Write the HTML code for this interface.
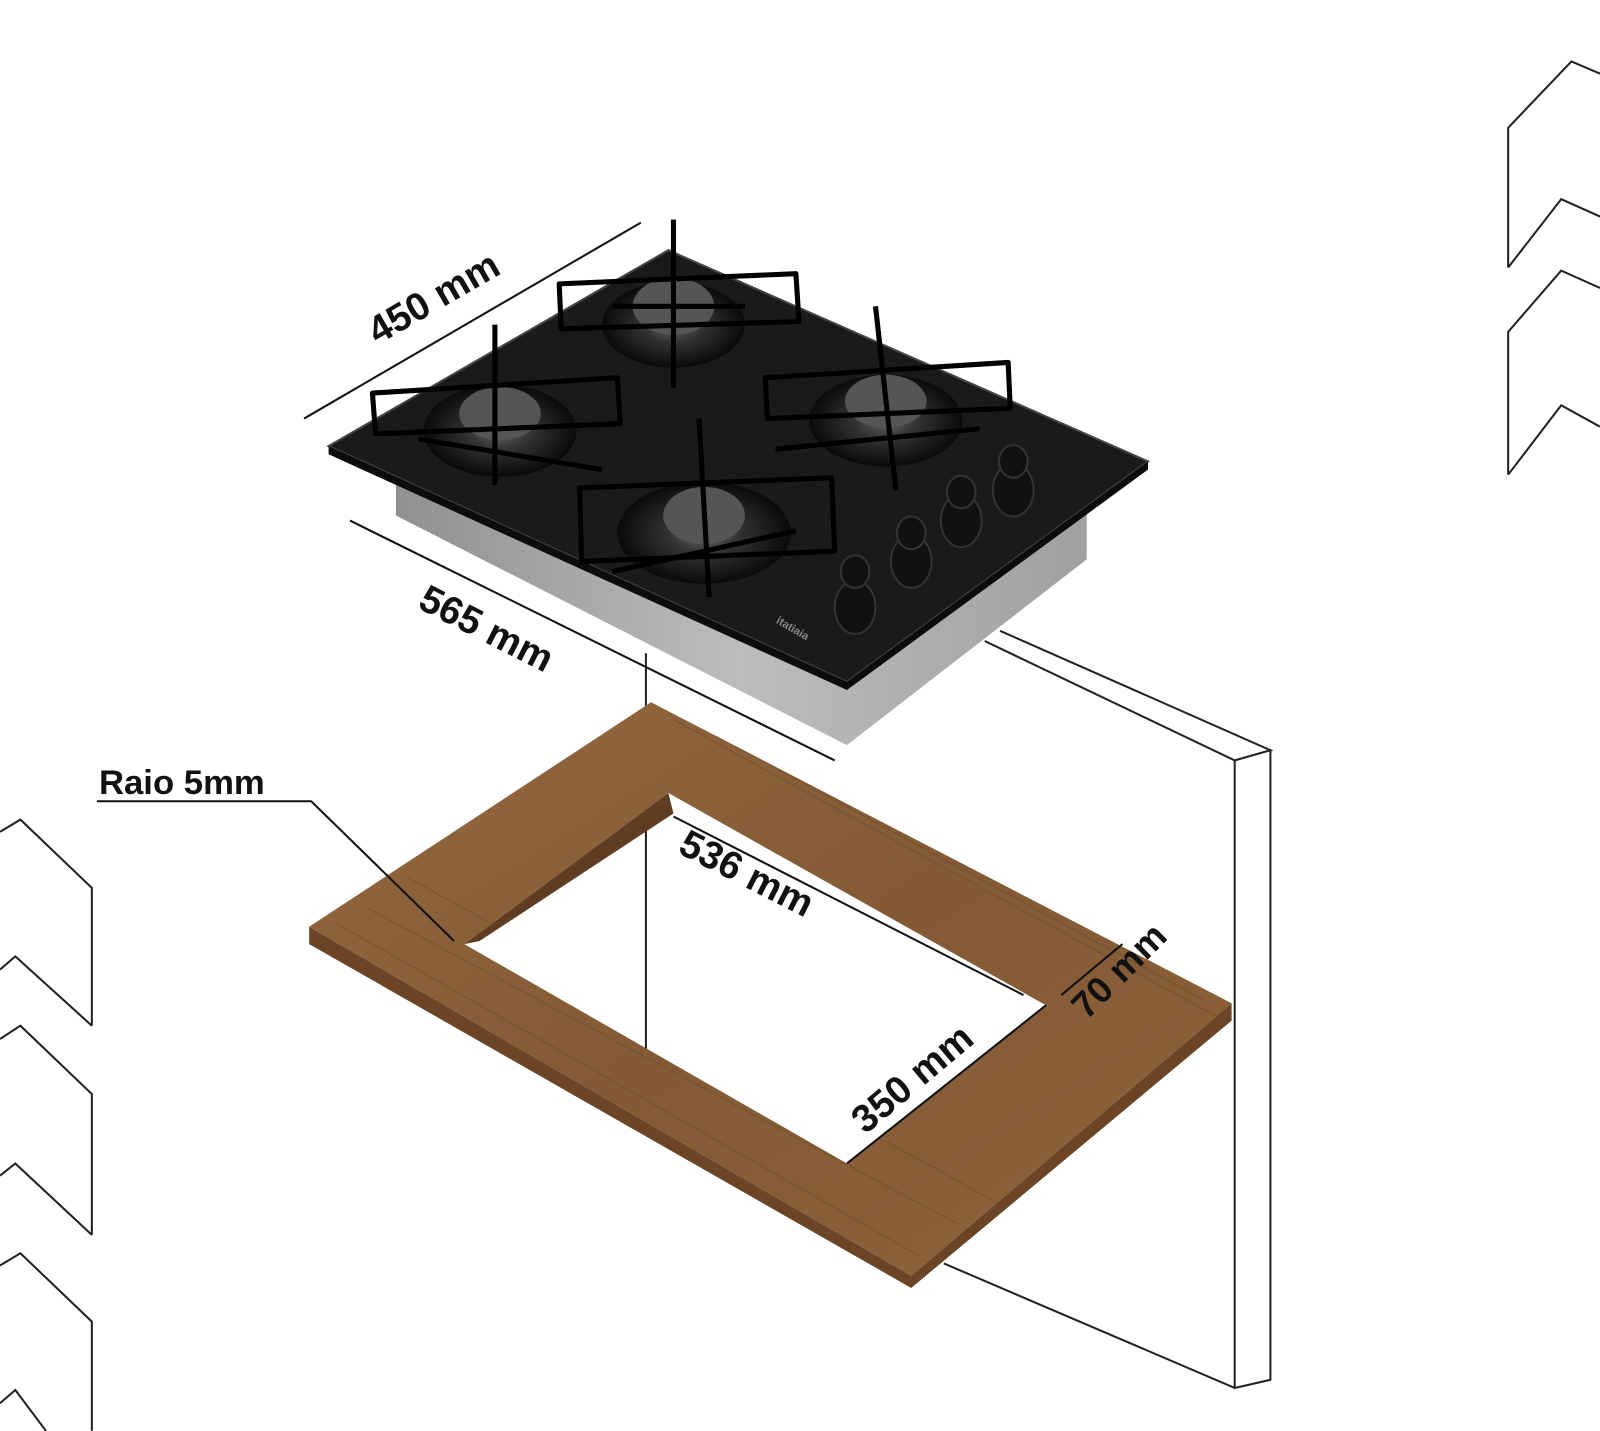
<!DOCTYPE html>
<html><head><meta charset="utf-8"><style>
html,body{margin:0;padding:0;background:#fff;}
svg{display:block}
text{font-family:"Liberation Sans",sans-serif;font-weight:bold;fill:#111}
</style></head><body>
<svg width="1600" height="1431" viewBox="0 0 1568 1402" xmlns="http://www.w3.org/2000/svg">
<defs>
<linearGradient id="wood" x1="0" y1="0" x2="1" y2="1">
<stop offset="0" stop-color="#94693f"/><stop offset="0.5" stop-color="#835a35"/><stop offset="1" stop-color="#8e633a"/>
</linearGradient>
<linearGradient id="steel" x1="0" y1="0" x2="1" y2="0">
<stop offset="0" stop-color="#909090"/><stop offset="0.5" stop-color="#bdbdbd"/><stop offset="1" stop-color="#a0a0a0"/>
</linearGradient>
<radialGradient id="burn" cx="0.5" cy="0.5" r="0.5">
<stop offset="0" stop-color="#666"/><stop offset="0.4" stop-color="#333"/><stop offset="1" stop-color="#0a0a0a"/>
</radialGradient>
<clipPath id="wc"><path clip-rule="evenodd" d="M303,908 L638,688 L1207,983 L893,1250 Z M455,925 L655,777 L1025,985 L830,1140 Z"/></clipPath>
</defs>
<g fill="none" stroke="#222" stroke-width="2">
<path d="M1478,262 L1478,125 L1540,60 L1568,72"/>
<path d="M1478,262 L1530,195 L1568,212"/>
<path d="M1478,465 L1478,325 L1530,265 L1568,282"/>
<path d="M1478,465 L1530,397 L1568,418"/>
<path d="M0,815 L20,803 L90,870 L90,1005"/>
<path d="M0,950 L15,937 L90,1005"/>
<path d="M0,1018 L20,1005 L90,1072 L90,1210"/>
<path d="M0,1152 L15,1140 L90,1210"/>
<path d="M0,1240 L20,1228 L90,1295 L90,1402"/>
<path d="M0,1375 L15,1362 L45,1402"/>
<path d="M965,628 L1210,745 L1245,735 L980,618"/>
<path d="M1245,735 L1245,1352 L1210,1360 L1210,745"/>
<path d="M925,1238 L1210,1360"/>
<path d="M633,640 L633,1032"/>
</g>
<path fill="#6b4526" d="M303,908 L303,925 L893,1262 L1207,1000 L1207,983 L893,1250 Z"/>
<path fill="url(#wood)" fill-rule="evenodd" d="M303,908 L638,688 L1207,983 L893,1250 Z M455,925 L655,777 L1025,985 L830,1140 Z"/>
<path fill="#5e3d22" d="M455,925 L655,777 L660,797 L470,922 Z"/>
<g stroke="#6d4a2b" stroke-width="1.5" opacity="0.45" clip-path="url(#wc)">
<path d="M330,905 L900,1230 M360,890 L940,1200 M700,720 L1180,980 M740,735 L1150,950 M400,860 L980,1180 M660,705 L1200,1000"/>
</g>
<path fill="url(#steel)" d="M388,470 L388,505 L830,730 L1065,548 L1065,495 L830,660 Z"/>
<path fill="#1a1a1a" stroke="#444" stroke-width="2" d="M322,437 L655,245 L1125,452 L830,668 Z"/>
<path fill="#0c0c0c" d="M322,437 L322,445 L830,676 L1125,460 L1125,452 L830,668 Z"/>
<g>
<ellipse cx="660" cy="318" rx="70" ry="42" fill="url(#burn)"/>
<ellipse cx="660" cy="300" rx="40" ry="28" fill="#555"/>
<ellipse cx="490" cy="422" rx="75" ry="45" fill="url(#burn)"/>
<ellipse cx="490" cy="405" rx="40" ry="26" fill="#555"/>
<ellipse cx="868" cy="412" rx="75" ry="45" fill="url(#burn)"/>
<ellipse cx="868" cy="393" rx="40" ry="26" fill="#555"/>
<ellipse cx="690" cy="522" rx="85" ry="50" fill="url(#burn)"/>
<ellipse cx="690" cy="505" rx="40" ry="28" fill="#555"/>
</g>
<g fill="none" stroke="#000" stroke-width="5" stroke-linejoin="round">
<path d="M548,278 L780,268 L783,315 L550,322 Z"/>
<path d="M660,215 L660,380 M600,300 L730,300"/>
<path d="M365,385 L605,370 L608,415 L368,425 Z"/>
<path d="M485,318 L485,475 M410,430 L590,460"/>
<path d="M750,370 L988,355 L990,400 L752,410 Z"/>
<path d="M858,300 L878,480 M760,440 L960,420"/>
<path d="M568,478 L815,468 L818,540 L570,550 Z"/>
<path d="M685,410 L695,585 M600,560 L780,520"/>
</g>
<g fill="#111" stroke="#333" stroke-width="2">
<ellipse cx="838" cy="595" rx="20" ry="26"/><ellipse cx="838" cy="560" rx="14" ry="16"/>
<ellipse cx="893" cy="550" rx="20" ry="26"/><ellipse cx="893" cy="522" rx="14" ry="16"/>
<ellipse cx="942" cy="510" rx="20" ry="26"/><ellipse cx="942" cy="482" rx="14" ry="16"/>
<ellipse cx="993" cy="480" rx="20" ry="26"/><ellipse cx="993" cy="452" rx="14" ry="16"/>
</g>
<text x="0" y="0" transform="translate(760,610) rotate(30)" style="font-size:11px;fill:#888">itatiaia</text>
<g stroke="#111" stroke-width="2" fill="none">
<path d="M298,410 L628,218"/>
<path d="M343,510 L818,745"/>
<path d="M660,800 L1003,975"/>
<path d="M830,1140 L1025,985"/>
<path d="M1040,975 L1100,925"/>
<path d="M95,785 L305,785 L445,922"/>
</g>
<text transform="translate(370,338) rotate(-30)" style="font-size:38px">450 mm</text>
<text transform="translate(408,595) rotate(27)" style="font-size:38px">565 mm</text>
<text transform="translate(663,835) rotate(27)" style="font-size:38px">536 mm</text>
<text transform="translate(848,1112) rotate(-40)" style="font-size:38px">350 mm</text>
<text transform="translate(1065,1000) rotate(-45)" style="font-size:36px">70 mm</text>
<text x="97" y="778" style="font-size:34px">Raio 5mm</text>
</svg>
</body></html>
